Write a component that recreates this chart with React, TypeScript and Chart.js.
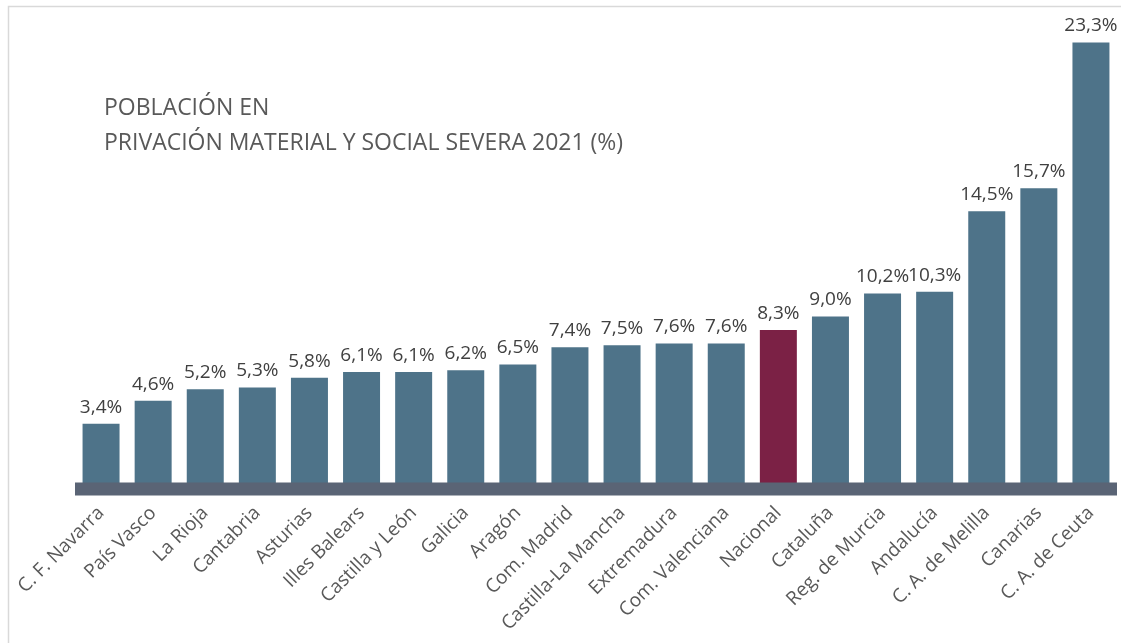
import React, { useEffect, useRef } from "react";
import { Chart, registerables } from "chart.js";

Chart.register(...registerables);

const categories = [
  "C. F. Navarra",
  "País Vasco",
  "La Rioja",
  "Cantabria",
  "Asturias",
  "Illes Balears",
  "Castilla y León",
  "Galicia",
  "Aragón",
  "Com. Madrid",
  "Castilla-La Mancha",
  "Extremadura",
  "Com. Valenciana",
  "Nacional",
  "Cataluña",
  "Reg. de Murcia",
  "Andalucía",
  "C. A. de Melilla",
  "Canarias",
  "C. A. de Ceuta",
];

const values = [3.4, 4.6, 5.2, 5.3, 5.8, 6.1, 6.1, 6.2, 6.5, 7.4, 7.5, 7.6, 7.6, 8.3, 9.0, 10.2, 10.3, 14.5, 15.7, 23.3];

const valueLabels = values.map((v) => v.toFixed(1).replace(".", ",") + "%");

const titleLines = ["POBLACIÓN EN", "PRIVACIÓN MATERIAL Y SOCIAL SEVERA 2021 (%)"];

const highlightCategory = "Nacional";

const BAR_COLOR = "#4e7389";
const HIGHLIGHT_COLOR = "#7b2145";
const BAND_COLOR = "#5a6475";
const FONT = "'Open Sans', 'DejaVu Sans', sans-serif";

const customPlugin = {
  id: "customDecor",
  beforeDraw(chart: any) {
    const { ctx, width, height } = chart;
    ctx.save();
    ctx.fillStyle = "#ffffff";
    ctx.fillRect(0, 0, width, height);
    ctx.strokeStyle = "#d9d9d9";
    ctx.lineWidth = 1.5;
    ctx.beginPath();
    ctx.moveTo(8.5, height + 2);
    ctx.lineTo(8.5, 6.5);
    ctx.lineTo(width - 1, 6.5);
    ctx.stroke();
    ctx.restore();
  },
  afterDatasetsDraw(chart: any) {
    const { ctx, chartArea, scales } = chart;
    const y0 = scales.y.getPixelForValue(0);
    ctx.save();
    ctx.fillStyle = BAND_COLOR;
    ctx.fillRect(chartArea.left, y0 - 6.5, chartArea.right - chartArea.left, 13);

    const meta = chart.getDatasetMeta(0);
    ctx.fillStyle = "#404040";
    ctx.font = `19px ${FONT}`;
    ctx.textAlign = "center";
    ctx.textBaseline = "bottom";
    meta.data.forEach((bar: any, i: number) => {
      ctx.fillText(valueLabels[i], bar.x, bar.y - 7);
    });

    ctx.fillStyle = "#595959";
    ctx.font = `23px ${FONT}`;
    ctx.textAlign = "left";
    ctx.textBaseline = "middle";
    titleLines.forEach((line, i) => {
      ctx.fillText(line, 104, 108 + i * 35);
    });
    ctx.restore();
  },
};

export default function App() {
  const canvasRef = useRef<HTMLCanvasElement | null>(null);

  useEffect(() => {
    if (!canvasRef.current) return;
    const chart = new Chart(canvasRef.current, {
      type: "bar",
      data: {
        labels: categories,
        datasets: [
          {
            data: values,
            backgroundColor: categories.map((c) => (c === highlightCategory ? HIGHLIGHT_COLOR : BAR_COLOR)),
            borderWidth: 0,
            barPercentage: 0.71,
            categoryPercentage: 1,
          },
        ],
      },
      options: {
        animation: false,
        responsive: true,
        maintainAspectRatio: false,
        layout: { padding: { left: 75, right: 5, top: 10, bottom: 0 } },
        plugins: {
          legend: { display: false },
          tooltip: { enabled: false },
          title: { display: false },
        },
        scales: {
          x: {
            grid: { display: false, drawTicks: false },
            border: { display: false },
            ticks: {
              color: "#595959",
              font: { family: FONT, size: 19 },
              minRotation: 45,
              maxRotation: 45,
              autoSkip: false,
              padding: 13,
            },
            afterFit(scale: any) {
              scale.height = 154;
              scale.paddingLeft = 0;
              scale.paddingRight = 0;
            },
          },
          y: {
            display: false,
            min: 0,
            max: 25,
          },
        },
      },
      plugins: [customPlugin],
    });
    return () => chart.destroy();
  }, []);

  return (
    <div style={{ position: "fixed", left: 0, top: 0, width: 1122, height: 643 }}>
      <canvas ref={canvasRef} />
    </div>
  );
}
